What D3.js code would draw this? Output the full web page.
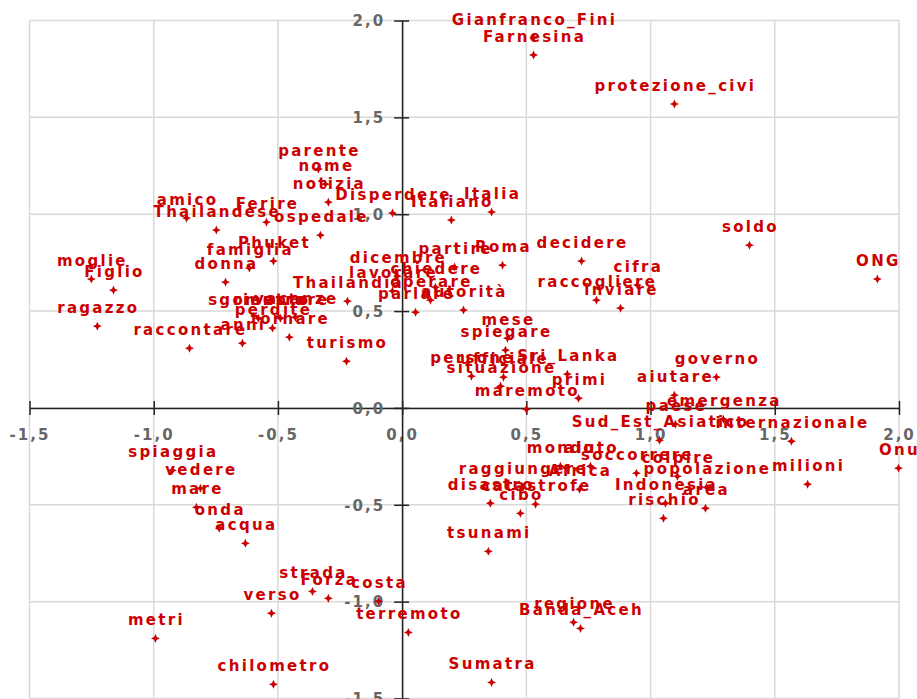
<!DOCTYPE html>
<html><head><meta charset="utf-8">
<script src="https://cdn.jsdelivr.net/npm/d3@7"></script>
<style>body{margin:0;background:#fff;} svg{display:block;}</style>
</head><body><svg id="c" width="917" height="699"></svg>
<script>
const words = ["Gianfranco_Fini","Farnesina","protezione_civi","parente","nome","notizia","Disperdere","Italia","Italiano","amico","Thailandese","Ferire","ospedale","Phuket","famiglia","donna","moglie","Figlio","ragazzo","raccontare","anni","tornare","perdite","sgomento","rientrare","vacanze","turismo","Thailandia","dicembre","lavorare","chiedere","operare","parlare","autorità","partire","Roma","decidere","soldo","ONG","cifra","raccogliere","inviare","mese","spiegare","Sri_Lanka","persone","ufficiale","situazione","primi","maremoto","governo","aiutare","emergenza","paese","Sud_Est_Asiatico","internazionale","mondo","aiuto","soccorrere","colpire","popolazione","milioni","Onu","Indonesia","rischio","area","raggiungere","Africa","disastro","catastrofe","cibo","tsunami","regione","Banda_Aceh","Sumatra","terremoto","costa","Forza","strada","verso","metri","chilometro","spiaggia","vedere","mare","onda","acqua"];
const dim1 = [0.529,0.529,1.096,-0.337,-0.309,-0.297,-0.039,0.360,0.198,-0.868,-0.748,-0.546,-0.329,-0.518,-0.615,-0.711,-1.251,-1.162,-1.227,-0.856,-0.643,-0.454,-0.522,-0.579,-0.490,-0.430,-0.224,-0.220,-0.019,-0.039,0.134,0.114,0.054,0.247,0.211,0.404,0.722,1.398,1.913,0.947,0.782,0.879,0.424,0.416,0.665,0.279,0.408,0.396,0.710,0.500,1.265,1.096,1.293,1.100,1.036,1.567,0.637,0.758,0.943,1.108,1.225,1.632,1.998,1.060,1.052,1.221,0.484,0.714,0.355,0.537,0.476,0.347,0.690,0.718,0.360,0.025,-0.095,-0.297,-0.361,-0.526,-0.993,-0.518,-0.925,-0.812,-0.828,-0.736,-0.631];
const dim2 = [1.910,1.822,1.569,1.233,1.155,1.062,1.006,1.011,0.970,0.980,0.918,0.959,0.892,0.758,0.722,0.649,0.665,0.608,0.422,0.308,0.334,0.365,0.412,0.463,0.463,0.468,0.241,0.551,0.680,0.603,0.623,0.556,0.494,0.505,0.727,0.737,0.758,0.840,0.665,0.634,0.556,0.515,0.360,0.298,0.174,0.164,0.159,0.112,0.050,-0.007,0.159,0.066,-0.058,-0.084,-0.167,-0.172,-0.301,-0.301,-0.337,-0.353,-0.410,-0.394,-0.311,-0.492,-0.570,-0.518,-0.410,-0.420,-0.492,-0.497,-0.544,-0.740,-1.107,-1.138,-1.417,-1.159,-0.998,-0.983,-0.947,-1.060,-1.190,-1.427,-0.322,-0.415,-0.513,-0.621,-0.699];
const xTicks = [-1.5,-1.0,-0.5,0.0,0.5,1.0,1.5,2.0];
const yTicks = [-1.5,-1.0,-0.5,0.0,0.5,1.0,1.5,2.0];

const svg = d3.select("#c");
const x = d3.scaleLinear().domain([-1.5,2]).range([29.5,899]);
const y = d3.scaleLinear().domain([-1.5,2]).range([698.5,20.5]);
const fmt = v => d3.format(".1f")(v).replace(".",",").replace("\u2212","-");
const FONT = "'DejaVu Sans', Verdana, sans-serif";

// grid
const grid = svg.append("g").attr("stroke","#d9d9d9").attr("stroke-width",1.5);
grid.selectAll("line.v").data(xTicks).join("line")
  .attr("x1",d=>x(d)).attr("x2",d=>x(d)).attr("y1",y(2)).attr("y2",y(-1.5));
grid.selectAll("line.h").data(yTicks).join("line")
  .attr("y1",d=>y(d)).attr("y2",d=>y(d)).attr("x1",x(-1.5)).attr("x2",x(2));

// axes
const xAxis = svg.append("g").attr("transform",`translate(0,${y(0)})`)
  .call(d3.axisBottom(x).tickValues(xTicks).tickFormat(fmt).tickSizeOuter(0));
xAxis.select(".domain").attr("stroke","#222").attr("stroke-width",1.5);
xAxis.selectAll(".tick line").attr("y1",-7).attr("y2",7).attr("stroke","#222").attr("stroke-width",1.5);
xAxis.selectAll(".tick text").attr("y",21).attr("dy","0.71em").attr("fill","#666")
  .style("font-family",FONT).style("font-weight","bold").style("font-size","15px").style("letter-spacing","2px");

const yAxis = svg.append("g").attr("transform",`translate(${x(0)},0)`)
  .call(d3.axisLeft(y).tickValues(yTicks).tickFormat(fmt).tickSizeOuter(0));
yAxis.select(".domain").attr("stroke","#222").attr("stroke-width",1.5);
yAxis.selectAll(".tick line").attr("x1",-8).attr("x2",7).attr("stroke","#222").attr("stroke-width",1.5);
yAxis.selectAll(".tick text").attr("x",-17).attr("dy","0.35em").attr("fill","#666")
  .style("font-family",FONT).style("font-weight","bold").style("font-size","15px").style("letter-spacing","2px");

// points
const pts = words.map((w,i)=>({w, a:dim1[i], b:dim2[i]}));
const star = "M0,-4.5L1.4,-1.4L4.5,0L1.4,1.4L0,4.5L-1.4,1.4L-4.5,0L-1.4,-1.4Z";
svg.append("g").selectAll("path").data(pts).join("path")
  .attr("d",star).attr("fill","#cc0000")
  .attr("transform",d=>`translate(${x(d.a)},${y(d.b)})`);

// labels
svg.append("g").selectAll("text").data(pts).join("text")
  .attr("x",d=>x(d.a)+1).attr("y",d=>y(d.b)-13)
  .attr("text-anchor","middle").attr("fill","#cc0000")
  .style("font-family",FONT).style("font-weight","bold").style("font-size","15px").style("letter-spacing","2.3px")
  .text(d=>d.w);
</script></body></html>
